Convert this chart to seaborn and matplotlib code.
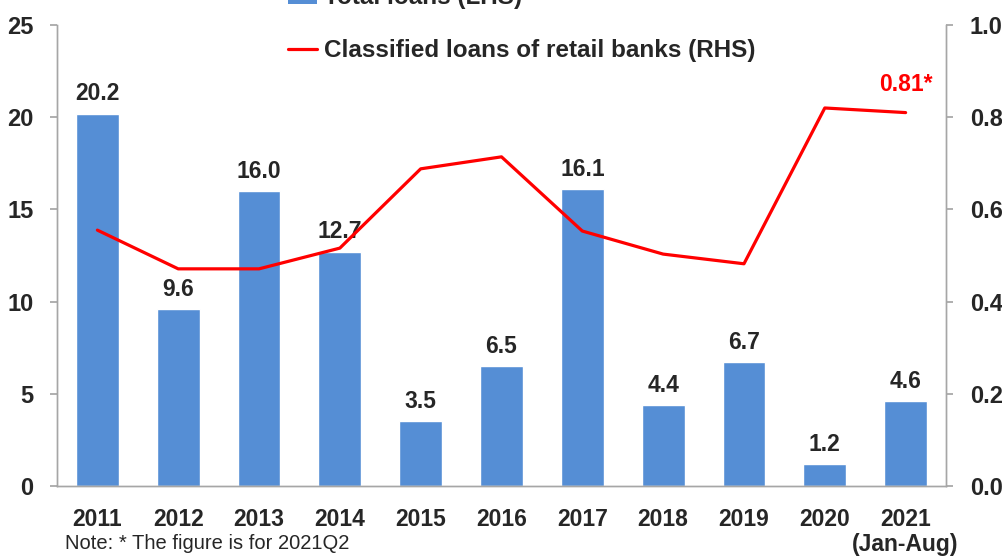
import matplotlib
matplotlib.use("Agg")
import matplotlib.pyplot as plt
import seaborn as sns
import pandas as pd
from matplotlib.patches import Patch
from matplotlib.lines import Line2D

years = ["2011", "2012", "2013", "2014", "2015", "2016", "2017", "2018", "2019", "2020", "2021\n(Jan-Aug)"]
total_loans = [20.2, 9.6, 16.0, 12.7, 3.5, 6.5, 16.1, 4.4, 6.7, 1.2, 4.6]
classified = [0.555, 0.471, 0.471, 0.516, 0.688, 0.714, 0.553, 0.503, 0.482, 0.82, 0.81]

sns.set_theme(style="white")
plt.rcParams["font.family"] = ["Liberation Sans", "DejaVu Sans"]

df = pd.DataFrame({"year": years, "loans": total_loans, "classified": classified})

fig = plt.figure(figsize=(10.03, 5.56), dpi=100)
ax = fig.add_axes([0.0568, 0.126, 0.8864, 0.829])
sns.barplot(data=df, x="year", y="loans", color="#558ED5", saturation=1, width=0.53, ax=ax)
ax.set_xlim(-0.5, 10.5)
ax.set_ylim(0, 25)
ax.set_yticks(range(0, 26, 5))
ax.set_xlabel("")
ax.set_ylabel("")

for i, v in enumerate(total_loans):
    ax.text(i, v + 0.45, f"{v:.1f}", ha="center", va="bottom", fontsize=16.5, fontweight="bold")

ax2 = ax.twinx()
sns.lineplot(x=range(len(years)), y=classified, color="#FF0000", linewidth=2.3, ax=ax2)
ax2.set_ylim(0, 1.0)
ax2.set_yticks([0, 0.2, 0.4, 0.6, 0.8, 1.0])
ax2.set_yticklabels(["0.0", "0.2", "0.4", "0.6", "0.8", "1.0"])
ax2.set_xlim(-0.5, 10.5)
ax2.text(10, classified[-1] + 0.035, "0.81*", ha="center", va="bottom", color="#FF0000",
         fontsize=16.5, fontweight="bold")

for a in (ax, ax2):
    for s in ["left", "right", "bottom"]:
        a.spines[s].set_color("#A6A6A6")
        a.spines[s].set_linewidth(1)
    a.spines["top"].set_visible(False)
    for lbl in a.get_yticklabels():
        lbl.set_fontweight("bold")
        lbl.set_fontsize(17)
ax.tick_params(axis="y", left=True, length=5, color="#A6A6A6", pad=12)
ax2.tick_params(axis="y", right=True, length=5, color="#A6A6A6", pad=12)
ax.tick_params(axis="x", bottom=False, pad=10)
for lbl in ax.get_xticklabels():
    lbl.set_fontweight("bold")
    lbl.set_fontsize(16.5)
    lbl.set_linespacing(1.1)

handles = [Patch(facecolor="#558ED5", edgecolor="none"),
           Line2D([0], [0], color="#FF0000", linewidth=2.3)]
labels = ["Total loans (LHS)", "Classified loans of retail banks (RHS)"]
fig.legend(handles, labels, loc="upper left", bbox_to_anchor=(0.265, 1.065), frameon=False,
           prop={"weight": "bold", "size": 17.5}, handlelength=1.2, handletextpad=0.3,
           labelspacing=1.25)

fig.text(0.065, 0.012, "Note: * The figure is for 2021Q2", fontsize=14.5)

fig.savefig("out.png", dpi=100)
